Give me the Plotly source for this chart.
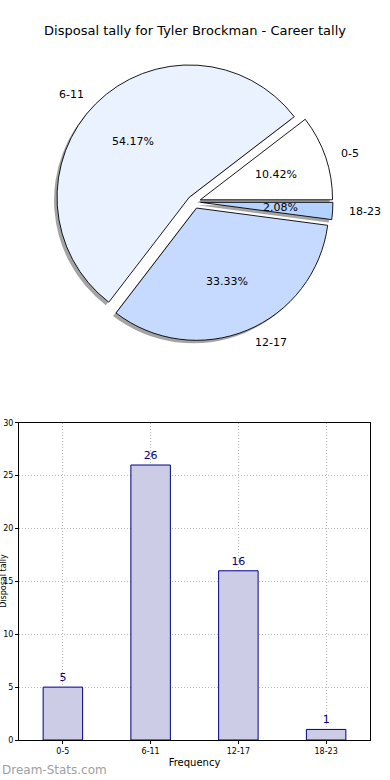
import math
import plotly.graph_objects as go

categories = ["0-5", "6-11", "12-17", "18-23"]
counts = [5, 26, 16, 1]
pie_colors = ["#ffffff", "#ebf2ff", "#c6daff", "#b4d2ff"]
title_text = "Disposal tally for Tyler Brockman - Career tally"
x_title = "Frequency"
y_title = "Disposal tally"
y_ticks = [0, 5, 10, 15, 20, 25, 30]
watermark = "Dream-Stats.com"

W, H = 390, 780
ml, mr, mt, mb = 19, 20, 0, 40
pw, ph = W - ml - mr, H - mt - mb

# pie geometry (pixels)
cx, cy = 194, 199
R = 133
pull = 0.05
half = R * (1 + pull)


def px2paper(x, y):
    return (x - ml) / pw, (H - mb - y) / ph


x0, y1 = px2paper(cx - half, cy - half)
x1, y0 = px2paper(cx + half, cy + half)
sx, sy = 3 / pw, 3 / ph

total = sum(counts)
# plotly: with counterclockwise direction the first slice lies clockwise of `rotation`
rot = 90 - 360 * counts[0] / total

fig = go.Figure()

# shadow
fig.add_trace(go.Pie(
    labels=categories, values=counts, sort=False, direction="counterclockwise",
    rotation=rot, pull=[pull] * 4, textinfo="none", hoverinfo="skip",
    marker=dict(colors=["rgba(90,90,90,0.55)"] * 4, line=dict(width=0)),
    domain=dict(x=[x0 - sx, x1 - sx], y=[y0 - sy, y1 - sy]), showlegend=False,
))
# main pie
fig.add_trace(go.Pie(
    labels=categories, values=counts, sort=False, direction="counterclockwise",
    rotation=rot, pull=[pull] * 4, textinfo="none",
    marker=dict(colors=pie_colors, line=dict(color="black", width=0.9)),
    domain=dict(x=[x0, x1], y=[y0, y1]), showlegend=False,
))

# bars
fig.add_trace(go.Bar(
    x=categories, y=counts, width=0.45, text=[str(c) for c in counts],
    textposition="outside", cliponaxis=False,
    textfont=dict(color="#00008b", size=11, family="DejaVu Sans"),
    marker=dict(color="#ccccE6", line=dict(color="#000080", width=1)),
    showlegend=False,
))

annotations = []
start = 0.0
for lab, v in zip(categories, counts):
    frac = v / total
    th = math.radians(start + 360 * frac / 2)
    start += 360 * frac
    pcx = cx + pull * R * math.cos(th)
    pcy = cy - pull * R * math.sin(th)
    # percentage
    px, py = px2paper(pcx + 0.6 * R * math.cos(th), pcy - 0.6 * R * math.sin(th))
    annotations.append(dict(x=px, y=py, xref="paper", yref="paper",
                            text=f"{frac*100:.2f}%", showarrow=False,
                            xanchor="center", yanchor="middle",
                            font=dict(size=11, color="black", family="DejaVu Sans")))
    # label
    lx, ly = px2paper(pcx + 1.1 * R * math.cos(th), pcy - 1.1 * R * math.sin(th))
    annotations.append(dict(x=lx, y=ly, xref="paper", yref="paper",
                            text=lab, showarrow=False,
                            xanchor="left" if math.cos(th) > 0 else "right",
                            yanchor="middle",
                            font=dict(size=11, color="black", family="DejaVu Sans")))

annotations.append(dict(x=(4 - ml) / pw, y=(H - mb - 580) / ph, xref="paper", yref="paper",
                        text=y_title, textangle=-90, showarrow=False,
                        xanchor="center", yanchor="middle",
                        font=dict(size=8, color="black", family="DejaVu Sans")))
annotations.append(dict(x=-ml / pw, y=(H - mb - 770) / ph, xref="paper", yref="paper",
                        text=watermark, showarrow=False, xanchor="left", yanchor="middle",
                        font=dict(size=12, color="#a0a0a0", family="DejaVu Sans")))

fig.update_layout(
    width=W, height=H,
    margin=dict(l=ml, r=mr, t=mt, b=mb),
    paper_bgcolor="white", plot_bgcolor="white",
    title=dict(text=title_text, x=0.5, xanchor="center", y=1 - 30 / H, yanchor="middle",
               font=dict(size=13, color="black", family="DejaVu Sans")),
    annotations=annotations,
    xaxis=dict(
        domain=[0, 1], showline=True, mirror=True, linecolor="black", linewidth=1,
        showgrid=True, gridcolor="#b8b8b8", griddash="1px,2px", gridwidth=1,
        ticks="outside", ticklen=3, tickcolor="black",
        tickfont=dict(size=8, color="black", family="DejaVu Sans"),
        title=dict(text=x_title, font=dict(size=10, color="black", family="DejaVu Sans"), standoff=4),
        range=[-0.5, 3.5],
    ),
    yaxis=dict(
        domain=[0, (H - mb - 421) / ph], range=[0, 30], tickvals=y_ticks,
        showline=True, mirror=True, linecolor="black", linewidth=1,
        showgrid=True, gridcolor="#b8b8b8", griddash="1px,2px", gridwidth=1,
        ticks="outside", ticklen=3, tickcolor="black", zeroline=False,
        tickfont=dict(size=8, color="black", family="DejaVu Sans"),
    ),
)

fig.write_html("out.html", post_script="document.body.style.margin='0';",
               config={"displayModeBar": False})
